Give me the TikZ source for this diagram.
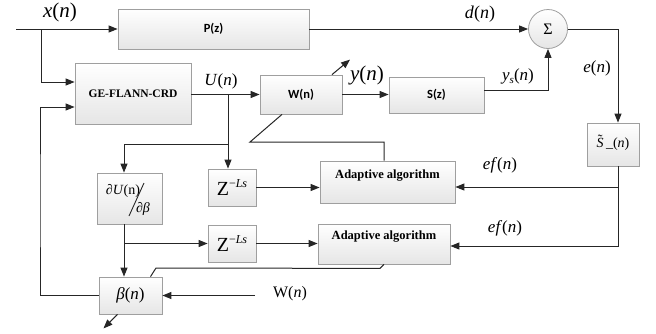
\documentclass[tikz,border=0pt]{standalone}
\usepackage{fontspec}
\setmainfont{Liberation Serif}
\newfontfamily\carl{Carlito}
\usetikzlibrary{arrows.meta}
\begin{document}
\begin{tikzpicture}[x=1pt,y=-1pt,
  box/.style={draw=gray!75, top color=white, bottom color=gray!20, line width=0.8pt, inner sep=0pt},
  sbox/.style={box, font=\carl\bfseries\fontsize{12.5}{13}\selectfont},
  tlab/.style={inner sep=0pt, font=\bfseries\fontsize{12.5}{13}\selectfont},
  conn/.style={draw=black!85, line width=1pt},
  arr/.style={conn, -{Triangle[length=9pt,width=7pt]}},
  lab/.style={inner sep=0pt, font=\fontsize{17}{17}\selectfont},
  zt/.style={box, font=\fontsize{20}{20}\selectfont}
]
\useasboundingbox (0,0) rectangle (656,333);

% boxes
\node[sbox, minimum width=191pt, minimum height=40pt] (P) at (213.5,29) {P(z)};
\node[box, minimum width=116pt, minimum height=61pt, font=\bfseries\fontsize{11.5}{12}\selectfont] (GE) at (133,93.5) {GE-FLANN-CRD};
\node[sbox, minimum width=82pt, minimum height=39pt] (W) at (301,94.5) {W(n)};
\node[sbox, minimum width=95pt, minimum height=36pt] (S) at (436.5,95) {S(z)};
\node[circle, draw=gray!75, top color=white, bottom color=gray!20, line width=0.8pt, minimum size=39pt, inner sep=0pt, font=\fontsize{16}{16}\selectfont] (Sig) at (548,29) {Σ};
\node[box, minimum width=52pt, minimum height=43pt, font=\fontsize{14}{14}\selectfont] (St) at (613,144.5) {\ooalign{\textit{S}\cr\hidewidth\raisebox{3pt}{\char"02DC}\hidewidth\cr}\,\_(\textit{n})};
\node[box, minimum width=135pt, minimum height=42pt] (A1) at (387.5,182) {};
\node[tlab] (A1t) at ([yshift=6pt]A1.center) {Adaptive algorithm};
\node[box, minimum width=132pt, minimum height=40pt] (A2) at (384,244) {};
\node[tlab] (A2t) at ([yshift=7pt]A2.center) {Adaptive algorithm};
\node[zt, minimum width=48pt, minimum height=37pt] (Z1) at (232,187.5) {Z\raisebox{7.5pt}{\fontsize{12}{12}\selectfont −\textit{Ls}}};
\node[zt, minimum width=48pt, minimum height=37pt] (Z2) at (232,243.5) {Z\raisebox{7.5pt}{\fontsize{12}{12}\selectfont −\textit{Ls}}};
\node[box, minimum width=65pt, minimum height=51pt] (dU) at (129.5,198.5) {};
\node[lab, font=\fontsize{14}{14}\selectfont] (dUt) at (123,191) {∂\textit{U}(n)};
\node[lab, font=\fontsize{14}{14}\selectfont] (dUb) at (143,209) {∂\textit{β}};
\draw[draw=black!85, line width=0.9pt] (144,183) -- (129,216);
\node[box, minimum width=63pt, minimum height=37pt, font=\fontsize{17}{17}\selectfont] (beta) at (130.5,295.5) {\textit{β}(\textit{n})};

% labels
\node[lab, font=\fontsize{21}{21}\selectfont] (xl) at (60,12) {\textit{x}(\textit{n})};
\node[lab, font=\fontsize{18}{18}\selectfont] (dl) at (480,14) {\textit{d}(\textit{n})};
\node[lab] (ul) at (221,81) {\textit{U}(\textit{n})};
\node[lab, font=\fontsize{21}{21}\selectfont] (yl) at (367,75) {\textit{y}(\textit{n})};
\node[lab] (ysl) at (518,76) {\textit{y}\raisebox{-3pt}{\fontsize{11}{11}\selectfont\textit{s}}(\textit{n})};
\node[lab] (el) at (597,68) {\textit{e}(\textit{n})};
\node[lab] (ef1) at (500,165) {\textit{ef}(\textit{n})};
\node[lab] (ef2) at (505,228) {\textit{ef}(\textit{n})};
\node[lab, font=\fontsize{16}{16}\selectfont] (wl) at (290,294) {W(\textit{n})};

% coordinates
\coordinate (xin) at (16,29);
\coordinate (jx) at (41,29);
\coordinate (ecol) at (618,0);
\coordinate (ucol) at (228,94.5);
\coordinate (ub) at (228,144);
\coordinate (dcol) at (124,0);
\coordinate (wst) at (255,295.5);

% connectors
\draw[arr] (xin) -- (P.west);
\draw[arr] (jx) |- ([yshift=11.5pt]GE.west);
\draw[arr] (beta.west) -| (40,200) |- ([yshift=-13.5pt]GE.west);
\draw[arr] (P.east) -- (Sig.west);
\draw[arr] (Sig.east) -| (St.north -| ecol);
\draw[arr] (St.south -| ecol) |- ([yshift=-5pt]A1.east);
\draw[arr] (St.south -| ecol) |- ([yshift=-2pt]A2.east);
\draw[arr] (GE.east |- W.west) -- (W.west);
\draw[arr] (ucol) -- (Z1.north -| ucol);
\draw[arr] (ub) -| (dU.north -| dcol);
\draw[arr] (dU.south -| dcol) -- (beta.north -| dcol);
\draw[arr] (dcol |- Z2.west) -- (Z2.west);
\draw[arr] (Z1.east) -- (Z1.east -| A1.west);
\draw[arr] (Z2.east) -- (Z2.east -| A2.west);
\draw[arr] (W.east) -- (W.east -| S.west);
\draw[arr] ([yshift=5pt]S.east) -| (Sig.south);
\draw[arr] ([xshift=31pt]W.north) -- ++(18,-15);
\draw[conn] ([xshift=-3.5pt]A1.north) |- (250,142) -- ([xshift=-19pt]W.south);
\draw[conn] (A2.south) -- ++(-4,4) -- (156,268) -- ([xshift=20pt]beta.north);
\draw[arr] (wst) -- (beta.east);
\draw[arr] ([xshift=-13pt]beta.south) -- ++(-14,14);
\end{tikzpicture}
\end{document}
